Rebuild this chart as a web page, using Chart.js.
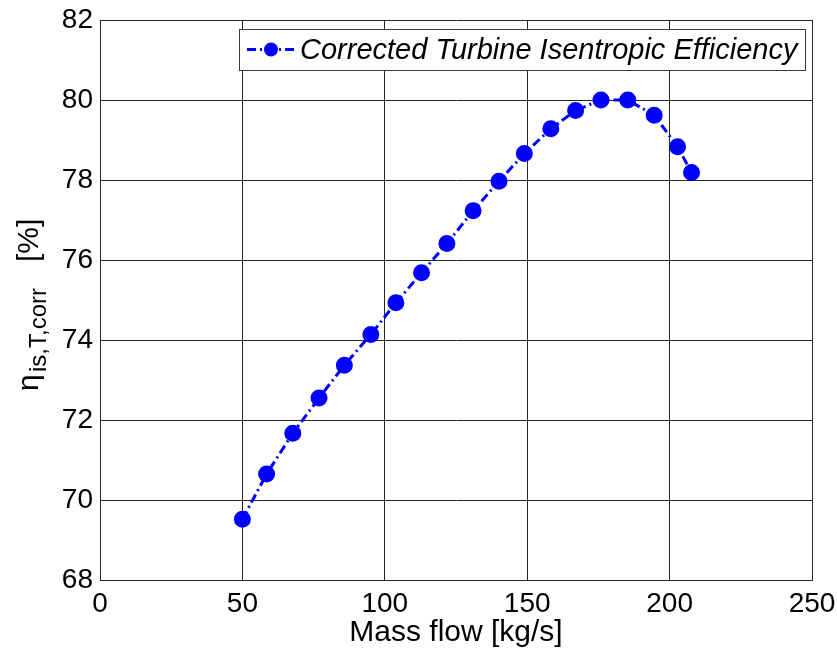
<!DOCTYPE html>
<html>
<head>
<meta charset="utf-8">
<script src="https://cdn.jsdelivr.net/npm/chart.js@4.4.1/dist/chart.umd.min.js"></script>
<style>
  html, body { margin: 0; padding: 0; background: #fff; }
  #wrap { width: 837px; height: 653px; }
</style>
</head>
<body>
<div id="wrap"><canvas id="myChart" width="837" height="653"></canvas></div>
<script>
'use strict';

// chart data
const massFlow = [50.0, 58.5, 67.7, 76.9, 85.8, 95.1, 103.9, 112.9, 121.8, 131.0,
  140.1, 149.0, 158.3, 167.0, 175.9, 185.3, 194.6, 202.8, 207.7];
const efficiency = [69.52, 70.65, 71.67, 72.55, 73.37, 74.14, 74.93, 75.68, 76.41, 77.23,
  77.97, 78.66, 79.28, 79.74, 80.0, 80.0, 79.62, 78.83, 78.19];
const xTicks = [0, 50, 100, 150, 200, 250];
const yTicks = [68, 70, 72, 74, 76, 78, 80, 82];
const seriesName = 'Corrected Turbine Isentropic Efficiency';

const fontName = '"Liberation Sans", Arial, Helvetica, sans-serif';
const blue = '#0000ff';
const lineDash = [9, 4, 2, 4];

const points = [];
for (let i = 0; i < massFlow.length; i++) {
  points.push({ x: massFlow[i], y: efficiency[i] });
}

// y axis title with subscript: eta_{is,T,corr} [%]
const yTitlePlugin = {
  id: 'yTitle',
  afterDraw(chart) {
    const c = chart.ctx;
    const area = chart.chartArea;
    const cy = (area.top + area.bottom) / 2;
    c.save();
    c.translate(38, cy);
    c.rotate(-Math.PI / 2);
    c.fillStyle = '#000';
    c.textBaseline = 'alphabetic';
    // pieces laid out along the rotated axis, offsets from plot centre
    c.font = '30px ' + fontName;
    c.fillText('\u03b7', -91, 0);
    c.font = '24px ' + fontName;
    c.fillText('is,T,corr', -72, 8);
    c.font = '30px ' + fontName;
    c.fillText('[%]', 38, 0);
    c.restore();
  }
};

// matlab style legend box
const legendPlugin = {
  id: 'boxLegend',
  afterDraw(chart) {
    const c = chart.ctx;
    const ds = chart.data.datasets[0];
    const area = chart.chartArea;
    const right = area.right - 7;
    const top = area.top + 9;
    const left = 239;
    const h = 41;
    const midY = top + h / 2;
    c.save();
    c.fillStyle = '#fff';
    c.fillRect(left, top, right - left, h);
    c.strokeStyle = '#3a3a3a';
    c.lineWidth = 1;
    c.strokeRect(left + 0.5, top + 0.5, right - left, h);

    c.strokeStyle = ds.borderColor;
    c.lineWidth = ds.borderWidth;
    c.setLineDash(lineDash);
    c.beginPath();
    c.moveTo(left + 8, midY);
    c.lineTo(left + 56, midY);
    c.stroke();
    c.setLineDash([]);
    c.fillStyle = ds.pointBackgroundColor;
    c.beginPath();
    c.arc(left + 32, midY, ds.pointRadius, 0, Math.PI * 2);
    c.fill();

    c.fillStyle = '#000';
    c.font = 'italic 29px ' + fontName;
    c.textBaseline = 'middle';
    c.fillText(ds.label, left + 61, midY + 1);
    c.restore();
  }
};

const ctx = document.getElementById('myChart');

let chartObj = {
  type: 'scatter',
  data: {
    datasets: [{
      label: seriesName,
      data: points,
      showLine: true,
      borderColor: blue,
      borderWidth: 3,
      borderDash: lineDash,
      pointBackgroundColor: blue,
      pointBorderColor: blue,
      pointRadius: 7,
      pointHoverRadius: 7,
      tension: 0
    }]
  },
  options: {
    responsive: false,
    animation: false,
    events: [],
    layout: {
      padding: { top: 20, right: 25, left: 0, bottom: 0 }
    },
    plugins: {
      legend: { display: false },
      tooltip: { enabled: false }
    },
    scales: {
      x: {
        type: 'linear',
        min: 0,
        max: 250,
        afterBuildTicks(axis) {
          axis.ticks = xTicks.map(v => ({ value: v }));
        },
        afterFit(axis) {
          axis.height = 73;
          axis.paddingLeft = 0;
          axis.paddingRight = 0;
        },
        grid: {
          color: '#262626',
          lineWidth: 1,
          drawTicks: false
        },
        border: { display: true, color: '#262626' },
        ticks: {
          color: '#000',
          padding: 7,
          maxRotation: 0,
          font: { family: fontName, size: 28 }
        },
        title: {
          display: true,
          text: 'Mass flow [kg/s]',
          color: '#000',
          font: { family: fontName, size: 30 },
          padding: { top: 0, bottom: 2 }
        }
      },
      y: {
        type: 'linear',
        min: 68,
        max: 82,
        afterBuildTicks(axis) {
          axis.ticks = yTicks.map(v => ({ value: v }));
        },
        afterFit(axis) {
          axis.width = 100;
          axis.paddingTop = 0;
          axis.paddingBottom = 0;
        },
        grid: {
          color: '#262626',
          lineWidth: 1,
          drawTicks: false
        },
        border: { display: true, color: '#262626' },
        ticks: {
          color: '#000',
          padding: 7,
          font: { family: fontName, size: 28 }
        }
      }
    }
  },
  plugins: [yTitlePlugin, legendPlugin]
};

new Chart(ctx, chartObj);
</script>
</body>
</html>
